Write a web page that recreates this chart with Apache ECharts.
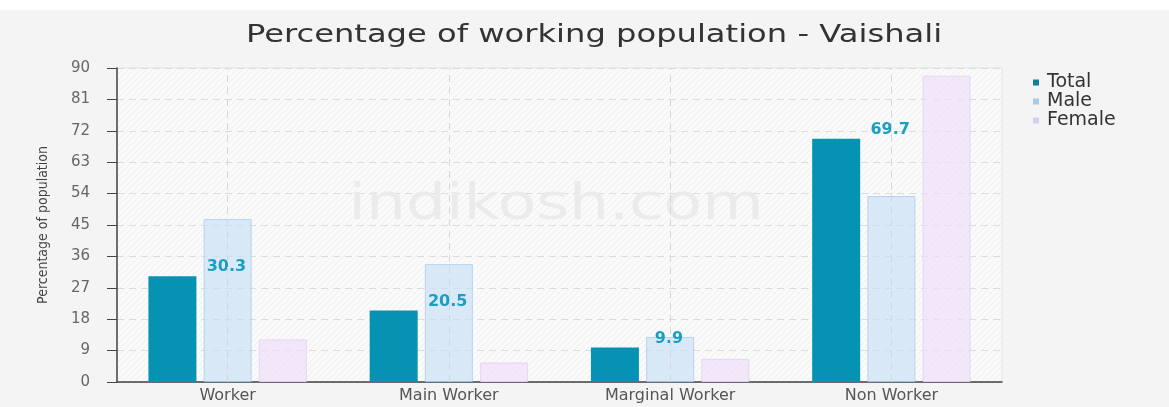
<!DOCTYPE html>
<html>
<head>
<meta charset="utf-8">
<script src="https://cdn.jsdelivr.net/npm/echarts@6/dist/echarts.min.js"></script>
<style>
  html, body { margin: 0; padding: 0; background: #f4f4f4; }
  #topstrip { position: absolute; left: 0; top: 0; width: 1169px; height: 10px; background: #fff; }
  #main { width: 1169px; height: 407px; }
</style>
</head>
<body>
<div id="main"></div>
<div id="topstrip"></div>
<script>
// data
var categories = ['Worker', 'Main Worker', 'Marginal Worker', 'Non Worker'];
var totalVals = [30.3, 20.5, 9.9, 69.7];
var maleVals = [46.7, 33.8, 12.9, 53.3];
var femaleVals = [12.2, 5.6, 6.6, 87.8];

var chart = echarts.init(document.getElementById('main'));

// light diagonal hatch for the plot area
var hatch = document.createElement('canvas');
hatch.width = 6; hatch.height = 6;
var hc = hatch.getContext('2d');
hc.fillStyle = '#fafafa';
hc.fillRect(0, 0, 6, 6);
hc.strokeStyle = 'rgba(0,0,0,0.045)';
hc.lineWidth = 1;
hc.beginPath();
hc.moveTo(0, 6); hc.lineTo(6, 0);
hc.moveTo(-1, 1); hc.lineTo(1, -1);
hc.moveTo(5, 7); hc.lineTo(7, 5);
hc.stroke();

var font = "'DejaVu Sans', Verdana, sans-serif";

option = {
    backgroundColor: '#f4f4f4',
    animation: false,
    legend: {
        orient: 'vertical',
        left: 1028,
        top: 68,
        itemWidth: 6,
        itemHeight: 6,
        itemGap: 0,
        icon: 'rect',
        textStyle: { fontFamily: font, fontSize: 19, color: '#333', padding: [0, 0, 0, 3] },
        data: [
            { name: 'Total', itemStyle: { color: '#137f9c' } },
            { name: 'Male', itemStyle: { color: '#a9cbe9', borderWidth: 0 } },
            { name: 'Female', itemStyle: { color: '#d9cef0', borderWidth: 0 } }
        ]
    },
    graphic: [
        {
            // chart title, stretched wide like the original
            type: 'text',
            x: 594,
            y: 36,
            scaleX: 1.34,
            silent: true,
            style: {
                text: 'Percentage of working population - Vaishali',
                align: 'center',
                verticalAlign: 'middle',
                fontFamily: font,
                fontSize: 24,
                fill: '#333'
            }
        },
        {
            // watermark
            type: 'text',
            x: 556,
            y: 206,
            scaleX: 1.26,
            z: 1,
            silent: true,
            style: {
                text: 'indikosh.com',
                align: 'center',
                verticalAlign: 'middle',
                fontFamily: font,
                fontSize: 50,
                fill: '#ebebeb'
            }
        }
    ],
    grid: {
        left: 117,
        right: 167,
        top: 68,
        bottom: 25,
        show: true,
        backgroundColor: { image: hatch, repeat: 'repeat' },
        borderColor: '#e2e2e2',
        borderWidth: 1
    },
    xAxis: {
        type: 'category',
        data: categories,
        axisLine: { lineStyle: { color: '#444', width: 1.5 } },
        axisTick: { alignWithLabel: true, length: 5, lineStyle: { color: '#444' } },
        axisLabel: { fontFamily: font, fontSize: 16, color: '#555', margin: 6 },
        splitLine: { show: false }
    },
    yAxis: {
        type: 'value',
        min: 0,
        max: 90,
        interval: 9,
        name: 'Percentage of population',
        nameLocation: 'middle',
        nameGap: 67,
        nameTextStyle: { fontFamily: "'DejaVu Sans Condensed', 'DejaVu Sans', sans-serif", fontSize: 14, color: '#444' },
        axisLine: { show: true, lineStyle: { color: '#444', width: 1.5 } },
        axisTick: { show: true, length: 10, lineStyle: { color: '#444' } },
        axisLabel: { fontFamily: font, fontSize: 15, color: '#666', margin: 27 },
        splitLine: { lineStyle: { color: '#dcdcdc', type: [7, 5] } }
    },
    series: [
        {
            name: 'Total',
            type: 'bar',
            data: totalVals,
            barWidth: 48,
            barGap: '15%',
            z: 3,
            itemStyle: { color: '#0592b3' },
            label: {
                show: true,
                position: 'top',
                distance: 2,
                offset: [54, 1],
                fontFamily: font,
                fontSize: 16,
                fontWeight: 'bold',
                color: '#1a9ec2'
            }
        },
        {
            name: 'Male',
            type: 'bar',
            data: maleVals,
            barWidth: 48,
            z: 3,
            itemStyle: { color: 'rgba(200,224,247,0.65)', borderColor: 'rgba(170,205,238,0.8)', borderWidth: 1 }
        },
        {
            name: 'Female',
            type: 'bar',
            data: femaleVals,
            barWidth: 48,
            z: 3,
            itemStyle: { color: 'rgba(240,224,250,0.7)', borderColor: 'rgba(230,210,245,0.9)', borderWidth: 1 }
        },
        {
            // carrier for the vertical dashed lines at category centres
            name: 'grid',
            type: 'line',
            data: [],
            silent: true,
            markLine: {
                silent: true,
                symbol: 'none',
                label: { show: false },
                lineStyle: { color: '#d6d6d6', type: [7, 5], width: 1 },
                data: categories.map(function (c) { return { xAxis: c }; })
            }
        }
    ]
};

chart.setOption(option);
</script>
</body>
</html>
